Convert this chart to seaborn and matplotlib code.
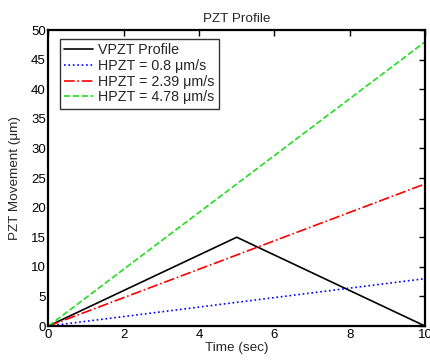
import matplotlib
matplotlib.use("Agg")
import matplotlib.pyplot as plt
import seaborn as sns

sns.set_style("white")
plt.rcParams['font.family'] = ['Liberation Sans', 'DejaVu Sans']

time_v = [0, 5, 10]
vpzt = [0, 15, 0]
time_h = [0, 10]
hpzt_08 = [0, 8]
hpzt_239 = [0, 24]
hpzt_478 = [0, 48]

labels = ["VPZT Profile", "HPZT = 0.8 \u03bcm/s", "HPZT = 2.39 \u03bcm/s", "HPZT = 4.78 \u03bcm/s"]
colors = ["black", "#0000ff", "#ff0000", "#22dd22"]
styles = ["-", ":", "-.", "--"]

fig = plt.figure(figsize=(4.31, 3.62), dpi=100)
ax = fig.add_axes([0.1125, 0.0994, 0.8735, 0.8176])

series = [(time_v, vpzt), (time_h, hpzt_08), (time_h, hpzt_239), (time_h, hpzt_478)]
for (x, y), lab, c, ls in zip(series, labels, colors, styles):
    sns.lineplot(x=x, y=y, ax=ax, color=c, linestyle=ls, label=lab, linewidth=1.2, estimator=None, sort=False)

ax.set_xlim(0, 10)
ax.set_ylim(0, 50)
ax.set_xticks([0, 2, 4, 6, 8, 10])
ax.set_yticks(range(0, 51, 5))
ax.tick_params(direction='in', top=True, right=True, length=4, width=1, labelsize=9.5, pad=2, colors='black')
for s in ax.spines.values():
    s.set_linewidth(1.6)
    s.set_color('black')
ax.set_title("PZT Profile", fontsize=9.7, pad=6)
ax.set_xlabel("Time (sec)", fontsize=9.7, labelpad=1)
ax.set_ylabel("PZT Movement (\u03bcm)", fontsize=9.7, labelpad=7)
leg = ax.legend(loc='upper left', bbox_to_anchor=(0.03, 0.97), borderaxespad=0, fontsize=10.3,
                frameon=True, fancybox=False, edgecolor='black',
                borderpad=0.3, labelspacing=0.12, handlelength=2.0, handletextpad=0.4)
leg.get_frame().set_linewidth(1.0)
fig.savefig("out.png", dpi=100)
